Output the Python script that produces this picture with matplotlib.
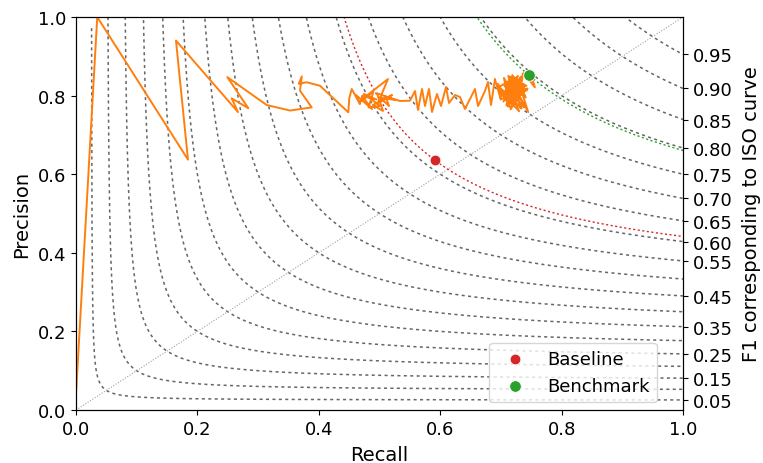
import numpy as np
import matplotlib
matplotlib.use("Agg")
import matplotlib.pyplot as plt

# ---- data ----
iso_f1 = [round(0.05 * k, 2) for k in range(1, 20)]
right_tick_f1 = [0.95, 0.90, 0.85, 0.80, 0.75, 0.70, 0.65, 0.60, 0.55,
                 0.45, 0.35, 0.25, 0.15, 0.05]

# PR curve, read in segments (recall / precision)
seg1_recall = [0.000, 0.035, 0.1845, 0.1647, 0.2669, 0.2565, 0.2839, 0.2493,
               0.3142, 0.3526, 0.3883, 0.369, 0.372, 0.367, 0.380, 0.402,
               0.4486, 0.4502]
seg1_precision = [0.040, 1.000, 0.637, 0.940, 0.758, 0.793, 0.768, 0.847,
                  0.776, 0.762, 0.770, 0.8125, 0.849, 0.830, 0.834, 0.825,
                  0.7575, 0.793]

seg2_recall = [0.4542, 0.4679, 0.4613, 0.4876, 0.4712, 0.4950, 0.4745, 0.4680,
               0.4900, 0.4820, 0.5008, 0.4790, 0.5140, 0.4975, 0.5206, 0.4890,
               0.5058, 0.4960, 0.5255, 0.5010, 0.5157, 0.5100, 0.5338]
seg2_precision = [0.8168, 0.7786, 0.8015, 0.7659, 0.7990, 0.7900, 0.8041,
                  0.7840, 0.8100, 0.7700, 0.7735, 0.8000, 0.8422, 0.7812,
                  0.8015, 0.7760, 0.7608, 0.8060, 0.7888, 0.7950, 0.7735,
                  0.7980, 0.7863]

seg3_recall = [0.5502, 0.5585, 0.5634, 0.5700, 0.5750, 0.5815, 0.5865, 0.5947,
               0.6013, 0.6096, 0.6145, 0.6244, 0.6326, 0.6409, 0.6573, 0.6623,
               0.6738, 0.6787, 0.6837, 0.6903]
seg3_precision = [0.7870, 0.8117, 0.7634, 0.8168, 0.7735, 0.8168, 0.7583,
                  0.8041, 0.7735, 0.8219, 0.7812, 0.8015, 0.7964, 0.7659,
                  0.8168, 0.7735, 0.8117, 0.8346, 0.7761, 0.8422]

seg4_recall = [0.690, 0.700, 0.695, 0.715, 0.705, 0.720, 0.698, 0.730, 0.710,
               0.725, 0.702, 0.735, 0.712, 0.728, 0.708, 0.740, 0.715, 0.722,
               0.718, 0.732, 0.706, 0.738, 0.720, 0.726, 0.712, 0.742, 0.716,
               0.733, 0.724, 0.745, 0.729, 0.704, 0.737, 0.711, 0.727, 0.701,
               0.731, 0.717, 0.739, 0.709, 0.723, 0.697, 0.734, 0.714, 0.741,
               0.719, 0.707, 0.736, 0.721, 0.713, 0.743, 0.703, 0.730, 0.716,
               0.738, 0.726, 0.710, 0.744, 0.718, 0.735, 0.736, 0.748, 0.756,
               0.744, 0.740]
seg4_precision = [0.842, 0.790, 0.830, 0.770, 0.845, 0.800, 0.815, 0.760,
                  0.835, 0.815, 0.805, 0.840, 0.790, 0.850, 0.820, 0.800,
                  0.835, 0.780, 0.845, 0.810, 0.825, 0.770, 0.838, 0.795,
                  0.850, 0.825, 0.808, 0.848, 0.818, 0.758, 0.835, 0.785,
                  0.830, 0.772, 0.842, 0.800, 0.790, 0.828, 0.812, 0.776,
                  0.846, 0.822, 0.768, 0.836, 0.795, 0.852, 0.804, 0.826,
                  0.782, 0.840, 0.814, 0.792, 0.832, 0.765, 0.820, 0.843,
                  0.798, 0.818, 0.780, 0.840, 0.856, 0.863, 0.821, 0.845,
                  0.852]

baseline_rp = (0.591, 0.636)
benchmark_rp = (0.746, 0.852)

pr_recall = seg1_recall + seg2_recall + seg3_recall + seg4_recall
pr_precision = seg1_precision + seg2_precision + seg3_precision + seg4_precision
n = min(len(pr_recall), len(pr_precision))
pr_recall, pr_precision = pr_recall[:n], pr_precision[:n]


def f1(r, p):
    return 2 * r * p / (r + p)


def iso_curve(f):
    x = np.linspace(f / 2 + 1e-5, 1.0, 3000)
    y = f * x / (2 * x - f)
    m = y <= 1.05
    return x[m], y[m]


FS = 13
LFS = 14
fig = plt.figure(figsize=(7.63, 4.64), dpi=100)
ax = fig.add_axes([76 / 763, 1 - 411 / 464, 607 / 763, 393 / 464])

for f in iso_f1:
    x, y = iso_curve(f)
    ax.plot(x, y, color="#666666", lw=1.1, dashes=[2.0, 2.2], zorder=1)

ax.plot([0, 1], [0, 1], color="#a0a0a0", lw=0.8, dashes=[1, 1.5], zorder=1)

xb, yb = iso_curve(f1(*baseline_rp))
ax.plot(xb, yb, color="tab:red", lw=1.0, dashes=[1.5, 1.8], zorder=2)
xg, yg = iso_curve(f1(*benchmark_rp))
ax.plot(xg, yg, color="tab:green", lw=1.0, dashes=[1.5, 1.8], zorder=2)

ax.plot(pr_recall, pr_precision, color="tab:orange", lw=1.4, zorder=3)

ax.scatter([baseline_rp[0]], [baseline_rp[1]], s=60, color="tab:red",
           edgecolor="white", linewidth=0.6, zorder=5, label="Baseline")
ax.scatter([benchmark_rp[0]], [benchmark_rp[1]], s=70, color="tab:green",
           edgecolor="white", linewidth=0.6, zorder=5, label="Benchmark")

ax.set_xlim(0, 1)
ax.set_ylim(0, 1)
ax.set_xlabel("Recall", fontsize=LFS, labelpad=5)
ax.set_ylabel("Precision", fontsize=LFS, labelpad=5)
ax.tick_params(labelsize=FS)

ax2 = ax.twinx()
ax2.set_ylim(0, 1)
ax2.set_yticks([f / (2 - f) for f in right_tick_f1])
ax2.set_yticklabels(["%.2f" % f for f in right_tick_f1])
ax2.tick_params(labelsize=FS)
ax2.set_ylabel("F1 corresponding to ISO curve", fontsize=LFS, labelpad=7)

ax.legend(loc="lower right", bbox_to_anchor=(0.957, 0.02), borderaxespad=0,
          fontsize=FS, scatterpoints=1)

fig.savefig("out.png", dpi=100)
